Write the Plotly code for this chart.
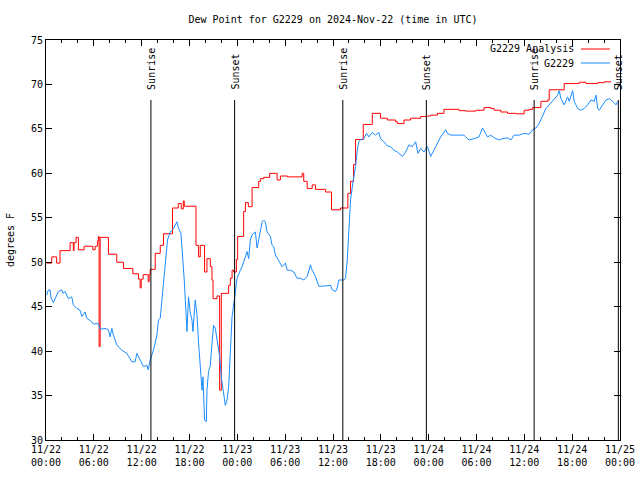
import pandas as pd
import plotly.graph_objects as go

start = pd.Timestamp("2024-11-22 00:00")

# Analysis (red, stepped) : hours since 11/22 00:00 UTC, dew point degF
ana_hours = [0.09, 0.72, 1.34, 1.76, 3.02, 3.43, 3.52, 3.77, 4.06, 4.78, 5.87, 6.16, 6.45, 6.57,
             6.66, 6.79, 7.83, 8.88, 9.71, 10.89, 11.60, 11.81, 11.94, 12.19, 12.82, 12.94, 13.07,
             13.70, 14.33, 14.74, 15.87, 16.59, 16.96, 17.22, 17.34, 18.81, 19.14, 19.35, 19.89,
             20.19, 20.61, 20.82, 20.95, 21.45, 21.78, 21.99, 22.91, 23.12, 23.34, 23.54, 23.88,
             24.04, 24.79, 25.01, 25.38, 25.85, 26.68, 26.89, 27.31, 28.06, 28.99, 29.40, 30.28,
             32.13, 32.33, 32.76, 33.39, 33.80, 35.06, 35.81, 36.94, 37.86, 38.20, 38.58, 38.83,
             39.80, 40.93, 41.97, 42.81, 43.86, 44.07, 44.90, 45.74, 47.00, 47.84, 48.25, 49.10,
             49.92, 51.81, 52.65, 53.91, 54.95, 55.79, 56.21, 57.05, 57.89, 58.93, 59.98, 60.61,
             61.03, 62.08, 62.92, 63.12, 65.00, 66.89, 67.73, 69.20, 70.03, 70.87]
ana_vals = [49.9, 50.6, 49.9, 51.3, 52.2, 51.3, 52.2, 52.8, 51.4, 51.8, 51.4, 51.8, 52.4, 52.9,
            40.5, 52.8, 50.9, 50.0, 49.3, 48.7, 48.1, 47.1, 48.1, 48.6, 47.8, 48.6, 49.2,
            51.0, 51.9, 53.2, 56.1, 56.6, 56.0, 56.9, 56.3, 51.9, 50.6, 51.9, 48.9,
            50.4, 49.5, 48.0, 45.9, 46.2, 35.6, 46.5, 47.4, 48.2, 49.1, 48.9, 50.3,
            52.9, 55.7, 56.7, 56.25, 58.4, 59.1, 59.4, 59.55, 60.0, 59.25, 59.7, 59.6,
            60.0, 59.1, 58.3, 58.7, 58.2, 57.9, 55.9, 56.1, 57.75, 59.1, 61.0, 63.8,
            65.5, 66.75, 66.2, 66.0, 65.8, 65.6, 66.0, 66.2, 66.4, 66.45, 66.55, 66.75,
            67.2, 67.05, 67.0, 67.1, 67.4, 67.3, 67.1, 66.9, 66.75, 66.7, 67.1, 67.2,
            67.4, 68.1, 68.25, 69.4, 70.1, 70.25, 70.1, 70.2, 70.3, 70.3]

# Observations (blue)
obs_hours = [0.09, 0.25, 0.50, 0.63, 0.92, 1.13, 1.55, 1.97, 2.14, 2.39, 2.80, 3.23, 3.43, 3.86,
             4.27, 4.49, 4.90, 5.11, 5.74, 5.94, 6.57, 6.79, 7.41, 7.83, 8.04, 8.26, 8.46, 8.88,
             9.51, 10.14, 10.77, 11.18, 11.40, 11.81, 12.23, 12.65, 12.82, 13.07, 13.48, 13.91,
             14.11, 14.33, 14.66, 14.95, 15.24, 15.58, 16.00, 16.42, 16.62, 16.93, 17.18, 17.34,
             17.59, 17.68, 17.88, 18.10, 18.31, 18.43, 18.72, 18.94, 19.14, 19.35, 19.57, 19.69,
             19.89, 20.11, 20.19, 20.39, 20.61, 20.82, 21.02, 21.24, 21.53, 21.78, 21.99, 22.28,
             22.49, 22.71, 22.91, 23.12, 23.34, 23.62, 23.96, 24.38, 24.59, 25.01, 25.22, 25.42,
             25.63, 25.85, 26.26, 26.48, 26.68, 26.89, 27.11, 27.31, 27.52, 27.73, 28.15, 28.36,
             28.56, 28.78, 29.19, 29.62, 30.03, 30.25, 30.66, 31.08, 31.50, 31.92, 32.33, 32.76,
             33.17, 33.39, 33.80, 34.22, 34.64, 35.27, 35.69, 35.90, 36.32, 36.53, 36.73, 37.36,
             37.57, 37.79, 37.99, 38.20, 38.54, 38.83, 39.04, 39.24, 39.46, 39.87, 40.21, 40.50,
             40.93, 41.34, 41.76, 41.97, 42.39, 42.81, 43.23, 43.64, 44.07, 44.48, 44.70, 45.11,
             45.53, 45.95, 46.37, 46.66, 47.00, 47.41, 47.84, 48.25, 48.67, 49.10, 49.51, 50.14,
             50.35, 50.77, 52.40, 52.65, 53.07, 53.69, 54.32, 54.75, 55.04, 55.38, 55.79, 56.21,
             56.84, 57.26, 57.89, 58.31, 58.72, 59.35, 59.98, 60.61, 61.03, 61.45, 61.86, 62.29,
             62.70, 63.12, 63.55, 64.17, 64.38, 64.59, 65.00, 65.43, 65.63, 66.06, 66.26, 66.69,
             67.10, 67.52, 67.94, 68.36, 68.78, 68.99, 69.20, 69.40, 69.83, 70.24, 70.66, 71.09,
             71.50, 71.71]
obs_vals = [46.3, 46.8, 46.9, 46.0, 45.45, 45.9, 46.7, 46.9, 46.5, 46.7, 45.9, 46.1, 45.2, 44.8,
            44.6, 43.9, 44.4, 43.7, 43.3, 43.05, 43.1, 42.45, 42.55, 42.4, 41.6, 42.55, 41.8, 40.7,
            40.1, 39.75, 38.8, 38.8, 39.75, 39.0, 38.25, 38.4, 37.9, 39.0, 40.1, 41.8,
            43.5, 43.7, 46.9, 49.5, 52.5, 53.4, 53.8, 54.55, 53.8, 53.25, 50.6, 48.0,
            43.9, 42.2, 46.1, 44.25, 43.5, 42.2, 45.75, 44.1, 40.9, 38.25, 35.6, 37.1,
            32.25, 32.05, 35.6, 37.7, 38.4, 40.9, 42.9, 42.55, 41.05, 39.4, 37.1, 35.1,
            33.9, 34.5, 36.0, 39.75, 43.9, 45.75, 48.2, 49.1, 49.5, 50.6, 51.2, 50.4,
            52.5, 53.1, 53.4, 51.6, 52.5, 53.4, 54.55, 54.75, 54.5, 53.4, 52.9, 51.9,
            51.75, 50.8, 50.1, 49.5, 49.9, 49.1, 49.1, 48.9, 48.2, 48.2, 48.0, 48.4,
            49.7, 49.1, 48.4, 47.3, 47.3, 47.4, 47.4, 46.9, 46.7, 47.1, 48.0, 48.0,
            48.2, 50.25, 54.0, 57.0, 59.25, 60.75, 62.6, 63.55, 63.8, 63.9, 64.5, 64.1,
            64.6, 64.3, 64.6, 63.9, 63.55, 63.1, 63.0, 62.6, 62.4, 62.1, 61.9, 62.4,
            63.2, 63.0, 63.55, 62.25, 62.8, 62.4, 63.0, 61.9, 62.6, 63.4, 64.1, 64.9,
            64.5, 64.3, 64.3, 64.1, 63.75, 63.9, 64.1, 65.1, 64.7, 64.1, 64.3, 64.0,
            63.75, 63.9, 64.0, 63.75, 64.3, 64.3, 64.5, 64.4, 64.9, 65.1, 65.6, 66.4,
            67.3, 67.7, 68.1, 68.8, 69.3, 68.4, 67.7, 68.6, 68.1, 69.3, 68.1, 67.3,
            67.1, 67.3, 67.7, 68.25, 68.1, 68.8, 67.3, 67.1, 67.7, 68.25, 68.4, 68.1,
            67.7, 68.1]

event_labels = ["Sunrise", "Sunset", "Sunrise", "Sunset", "Sunrise", "Sunset"]
event_hours = [13.16, 23.66, 37.23, 47.71, 61.23, 71.79]

series_names = ["G2229 Analysis", "G2229"]
series_colors = ["#ff0000", "#1a8cff"]

FONT = "DejaVu Sans Mono"

def to_time(hours):
    return [start + pd.Timedelta(hours=h) for h in hours]

fig = go.Figure()
fig.add_trace(go.Scatter(x=to_time(ana_hours), y=ana_vals, mode="lines", line_shape="hv",
                         line=dict(color=series_colors[0], width=1), name=series_names[0]))
fig.add_trace(go.Scatter(x=to_time(obs_hours), y=obs_vals, mode="lines",
                         line=dict(color=series_colors[1], width=1), name=series_names[1]))

for lab, h in zip(event_labels, event_hours):
    t = start + pd.Timedelta(hours=h)
    fig.add_shape(type="line", xref="x", yref="paper", x0=t, x1=t, y0=0, y1=0.85,
                  line=dict(color="black", width=1))
    fig.add_annotation(x=t, y=0.87, xref="x", yref="paper", text=lab, textangle=-90,
                       showarrow=False, xanchor="center", yanchor="bottom",
                       font=dict(family=FONT, size=10, color="black"))

# legend (top-right, text right-aligned, sample to its right)
for i, (nm, col) in enumerate(zip(series_names, series_colors)):
    ypx = 49 + 14 * i
    yp = (440 - ypx) / 400
    fig.add_annotation(x=(576 - 46) / 574, y=yp, xref="paper", yref="paper", text=nm,
                       showarrow=False, xanchor="right", yanchor="middle",
                       font=dict(family=FONT, size=10, color="black"))
    fig.add_shape(type="line", xref="paper", yref="paper",
                  x0=(581 - 46) / 574, x1=(610 - 46) / 574, y0=yp, y1=yp,
                  line=dict(color=col, width=1))

fig.update_layout(
    width=640, height=480,
    margin=dict(l=46, r=20, t=40, b=40, autoexpand=False),
    paper_bgcolor="white", plot_bgcolor="white",
    showlegend=False,
    font=dict(family=FONT, size=10, color="black"),
    title=dict(text="Dew Point for G2229 on 2024-Nov-22 (time in UTC)", x=333 / 640,
               xanchor="center", y=1 - 19 / 480, yanchor="middle",
               font=dict(family=FONT, size=10)),
)
fig.update_xaxes(
    type="date", range=[start, start + pd.Timedelta(hours=72)], automargin=False,
    dtick=6 * 3600 * 1000, tick0=start, tickformat="%m/%d<br>%H:%M",
    ticks="inside", ticklen=6, tickcolor="black", showline=True, linecolor="black",
    linewidth=1, mirror="allticks", showgrid=False, zeroline=False,
    minor=dict(dtick=2 * 3600 * 1000, ticks="inside", ticklen=3, tickcolor="black", showgrid=False),
    tickfont=dict(family=FONT, size=10),
)
fig.update_yaxes(
    range=[30, 75], dtick=5, ticks="inside", ticklen=6, tickcolor="black", automargin=False,
    showline=True, linecolor="black", linewidth=1, mirror="allticks",
    showgrid=False, zeroline=False,
    title=dict(text="degrees F", font=dict(family=FONT, size=10), standoff=14),
    tickfont=dict(family=FONT, size=10),
)

fig.write_html("out.html", config={"displayModeBar": False},
               post_script="document.body.style.margin='0';")
